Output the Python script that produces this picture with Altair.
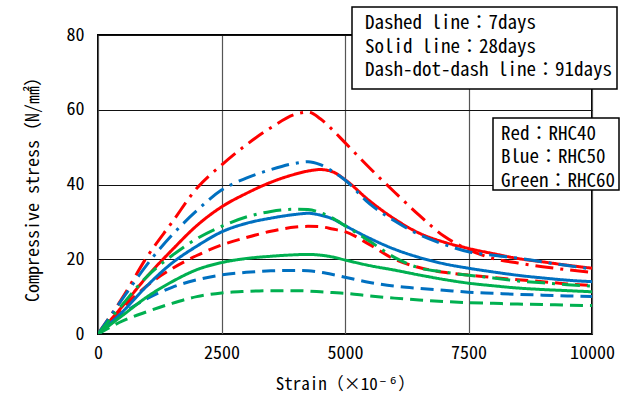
import altair as alt
import pandas as pd

FONT = "'Noto Sans Mono CJK JP', 'Noto Sans CJK JP', monospace"

# strain (x10^-6) sample points shared by all curves
strain = [0, 500, 1000, 1500, 2000, 2500, 3000, 3500, 4000, 4250, 4500, 4750,
          5000, 5500, 6000, 6500, 7000, 7500, 8000, 8500, 9000, 9500, 10000]

# compressive stress (N/mm2) per mix and age
rhc40_7d = [0, 7, 13, 17.5, 21, 23.8, 25.8, 27.5, 28.6, 28.8, 28.7, 28.1,
            27.4, 23.9, 20, 17.8, 16.5, 15.8, 15.1, 14.5, 14, 13.4, 13]
rhc50_7d = [0, 5.5, 9.5, 12.5, 14.5, 15.8, 16.5, 16.9, 17, 16.9, 16.5, 15.9,
            15.2, 13.8, 12.8, 12.2, 11.7, 11.2, 10.9, 10.6, 10.4, 10.2, 10]
rhc60_7d = [0, 3.5, 6, 8.2, 10, 11, 11.4, 11.6, 11.6, 11.5, 11.3, 11.1,
            10.9, 10.2, 9.6, 9.1, 8.7, 8.4, 8.2, 8, 7.9, 7.7, 7.6]
rhc40_28d = [0, 7.5, 15.5, 22.5, 29, 34, 37.6, 40.6, 42.8, 43.6, 44, 43.4,
             41.3, 35.6, 30.8, 27, 24.6, 22.9, 21.5, 20.2, 19.3, 18.4, 17.6]
rhc50_28d = [0, 6, 13, 19, 23.5, 27.3, 29.6, 31, 32, 32.3, 31.8, 30.8,
             29, 25.6, 22.7, 20.5, 18.8, 17.6, 16.6, 15.7, 15, 14.4, 14]
rhc60_28d = [0, 5, 10, 14, 17.2, 19.1, 20.2, 20.8, 21.2, 21.3, 21.1, 20.6,
             19.8, 18.3, 17.1, 15.8, 14.6, 13.6, 12.9, 12.3, 11.9, 11.6, 11.3]
rhc40_91d = [0, 9.8, 20.8, 29.9, 39, 45.2, 50.6, 55.2, 58.8, 59.4, 57.6, 54.6,
             51.2, 44.4, 38, 31.8, 26.2, 22.6, 20.2, 19, 18, 17.2, 16.5]
rhc50_91d = [0, 9.5, 18.7, 26.5, 33, 38.5, 41.7, 44, 45.7, 46.1, 45.3, 43.5,
             41.2, 34.8, 30.3, 26.6, 24, 22, 21.1, 20.3, 19.3, 18.3, 17.4]
rhc60_91d = [0, 8, 15.5, 21, 25.5, 28.8, 31.3, 32.8, 33.4, 33.3, 32.5, 31,
             29, 24.8, 20.5, 17.7, 16.6, 15.7, 15, 14.2, 13.7, 13.2, 12.8]

mixes = ["RHC40", "RHC50", "RHC60"]
mix_colors = ["#FF0000", "#0070C0", "#00B050"]
ages = ["7days", "28days", "91days"]
age_dashes = [[13, 7], [1, 0], [18, 7, 3, 7]]

series = {
    ("RHC40", "7days"): rhc40_7d, ("RHC50", "7days"): rhc50_7d, ("RHC60", "7days"): rhc60_7d,
    ("RHC40", "28days"): rhc40_28d, ("RHC50", "28days"): rhc50_28d, ("RHC60", "28days"): rhc60_28d,
    ("RHC40", "91days"): rhc40_91d, ("RHC50", "91days"): rhc50_91d, ("RHC60", "91days"): rhc60_91d,
}

rows = []
for (mix, age), values in series.items():
    for s, v in zip(strain, values):
        rows.append({"mix": mix, "age": age, "curve": f"{mix}-{age}", "strain": s, "stress": v})
df = pd.DataFrame(rows)

legend_age = ["Dashed line：7days", "Solid line：28days", "Dash-dot-dash line：91days"]
legend_mix = ["Red：RHC40", "Blue：RHC50", "Green：RHC60"]

W, H = 494, 299

lines = alt.Chart(df).mark_line(strokeWidth=3, interpolate="monotone", clip=True).encode(
    x=alt.X("strain:Q", scale=alt.Scale(domain=[0, 10000], nice=False),
            axis=alt.Axis(values=[0, 2500, 5000, 7500, 10000], format="d",
                          title="Strain（×10⁻⁶）", titlePadding=14, labelPadding=10,
                          gridColor="#555555")),
    y=alt.Y("stress:Q", scale=alt.Scale(domain=[0, 80], nice=False),
            axis=alt.Axis(values=[0, 20, 40, 60, 80], format="d",
                          title="Compressive stress（N/㎟）", titlePadding=24, labelPadding=14,
                          titleFontSize=18, gridColor="#111111")),
    color=alt.Color("mix:N", scale=alt.Scale(domain=mixes, range=mix_colors), legend=None),
    strokeDash=alt.StrokeDash("age:N", scale=alt.Scale(domain=ages, range=age_dashes), legend=None),
    detail="curve:N",
)

def box(x0, x1, y0, y1):
    return alt.Chart(df.head(1)).mark_rect(fill="white", stroke="black", strokeWidth=1.5).encode(
        x=alt.value(x0), x2=alt.value(x1), y=alt.value(y0), y2=alt.value(y1))

def label(text, x0, y0):
    return alt.Chart(df.head(1)).mark_text(
        text=text, align="left", baseline="middle", font=FONT, fontSize=19, color="black"
    ).encode(x=alt.value(x0), y=alt.value(y0))

layers = [lines, box(254, 519, -28, 54), box(395, 521, 83, 155)]
for i, t in enumerate(legend_age):
    layers.append(label(t, 267, -12 + 23.5 * i))
for i, t in enumerate(legend_mix):
    layers.append(label(t, 403, 98.5 + 23.5 * i))

chart = alt.layer(*layers).properties(
    width=W, height=H,
    autosize=alt.AutoSizeParams(type="none"),
    padding={"left": 98, "top": 35, "right": 37, "bottom": 62},
).configure_view(
    stroke="black", strokeWidth=2
).configure_axis(
    grid=True, gridWidth=1.2, domain=False, ticks=False,
    labelFont=FONT, labelFontSize=18, labelColor="black",
    titleFont=FONT, titleFontSize=17, titleFontWeight="normal", titleColor="black",
).configure_axisX(labelFlush=False)

chart.save("out.html", embed_options={"renderer": "svg", "actions": False})
